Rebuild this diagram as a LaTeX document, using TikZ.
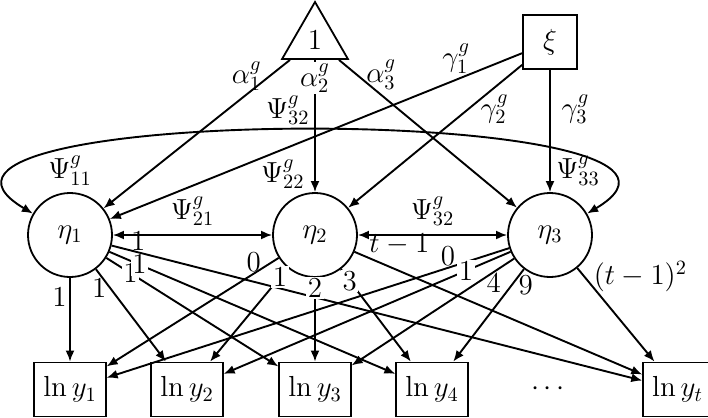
\documentclass[tikz,border=0pt]{standalone}
\usepackage{fix-cm}
\usetikzlibrary{arrows.meta,shapes.geometric}
\tikzset{
  lat/.style={draw, circle, minimum size=42pt, inner sep=0pt, line width=0.9pt},
  obs/.style={draw, rectangle, minimum height=27pt, inner xsep=4.5pt, line width=0.9pt},
  arr/.style={-{Latex[length=5.5pt,width=4.5pt]}, line width=0.95pt},
  darr/.style={{Latex[length=5.5pt,width=4.5pt]}-{Latex[length=5.5pt,width=4.5pt]}, line width=0.95pt},
  lab/.style={fill=white, inner sep=0.8pt},
  lbl/.style={inner sep=0.8pt},
}
\begin{document}
\begin{tikzpicture}[x=0.5pt, y=-0.5pt, font=\fontsize{14.5}{17}\selectfont]
\useasboundingbox (0,0) rectangle (708,418);
% top nodes
\node[draw, regular polygon, regular polygon sides=3, minimum size=38pt, inner sep=0pt, line width=0.9pt] (tri) at (315,40) {$1$};
\node[draw, rectangle, minimum size=27pt, inner sep=0pt, line width=0.9pt] (xi) at (550,42) {$\xi$};
% latent
\node[lat, label={[label distance=0pt]90:$\Psi^g_{11}$}] (e1) at (70,235) {$\eta_1$};
\node[lat] (e2) at (315,235) {$\eta_2$};
\node[lat, label={[label distance=0pt, xshift=14pt]90:$\Psi^g_{33}$}] (e3) at (550,235) {$\eta_3$};
% observed
\node[obs] (y1) at (70,389.5) {$\ln y_1$};
\node[obs] (y2) at (187,389.5) {$\ln y_2$};
\node[obs] (y3) at (315,389.5) {$\ln y_3$};
\node[obs] (y4) at (432,389.5) {$\ln y_4$};
\node (dots) at (548,389.5) {$\cdots$};
\node[obs] (yt) at (677.5,389.5) {$\ln y_t$};
% intercept paths
\draw[arr] (tri) -- (e1) node[lbl, pos=0.107, left=3pt] {$\alpha^g_1$};
\draw[arr] (tri) -- (e2) node[lab, pos=0.14] {$\alpha^g_2$}
  node[lbl, pos=0.865, left=4pt] {$\Psi^g_{22}$};
\draw[arr] (tri) -- (e3) node[lbl, pos=0.1, right=3.5pt] {$\alpha^g_3$};
% covariate paths
\draw[arr] (xi) -- (e1) node[lbl, pos=0.16, above=2pt] {$\gamma^g_1$};
\draw[arr] (xi) -- (e2) node[lbl, pos=0.31, right=5pt] {$\gamma^g_2$};
\draw[arr] (xi) -- (e3) node[lbl, pos=0.32, right=4.5pt] {$\gamma^g_3$};
% covariances
\draw[darr] (e1.150) .. controls (-155,102) and (775,102) .. (e3.30)
  node[lbl, pos=0.48, above=1.5pt] {$\Psi^g_{32}$};
\draw[darr] (e1) -- (e2) node[lbl, pos=0.5, above=3.5pt] {$\Psi^g_{21}$};
\draw[darr] (e2) -- (e3) node[lbl, pos=0.5, above=3.5pt] {$\Psi^g_{32}$};
% loadings eta1
\draw[arr] (e1) -- (y1) node[lbl, pos=0.23, left=0.5pt] {$1$};
\draw[arr] (e1) -- (y2) node[lbl, pos=0.2, left=0.5pt] {$1$};
\draw[arr] (e1) -- (y3) node[lab, pos=0.14] {$1$};
\draw[arr] (e1) -- (y4) node[lab, pos=0.105] {$1$};
\draw[arr] (e1) -- (yt) node[lbl, pos=0.05, above=-0.5pt] {$1$};
% loadings eta2
\draw[arr] (e2) -- (y1) node[lbl, pos=0.145, above=0pt] {$0$};
\draw[arr] (e2) -- (y2) node[lab, pos=0.1] {$1$};
\draw[arr] (e2) -- (y3) node[lab, pos=0.12] {$2$};
\draw[arr] (e2) -- (y4) node[lab, pos=0.126] {$3$};
\draw[arr] (e2) -- (yt) node[lbl, pos=0.043, anchor=south west] {$t-1$};
% loadings eta3
\draw[arr] (e3) -- (y1) node[lbl, pos=0.152, above=0pt] {$0$};
\draw[arr] (e3) -- (y2) node[lab, pos=0.155] {$1$};
\draw[arr] (e3) -- (y3) node[lbl, pos=0.126, below=-0.5pt] {$4$};
\draw[arr] (e3) -- (y4) node[lbl, pos=0.17, right=2pt] {$9$};
\draw[arr] (e3) -- (yt) node[lbl, pos=0.09, right=3.5pt] {$(t-1)^2$};
\end{tikzpicture}
\end{document}
